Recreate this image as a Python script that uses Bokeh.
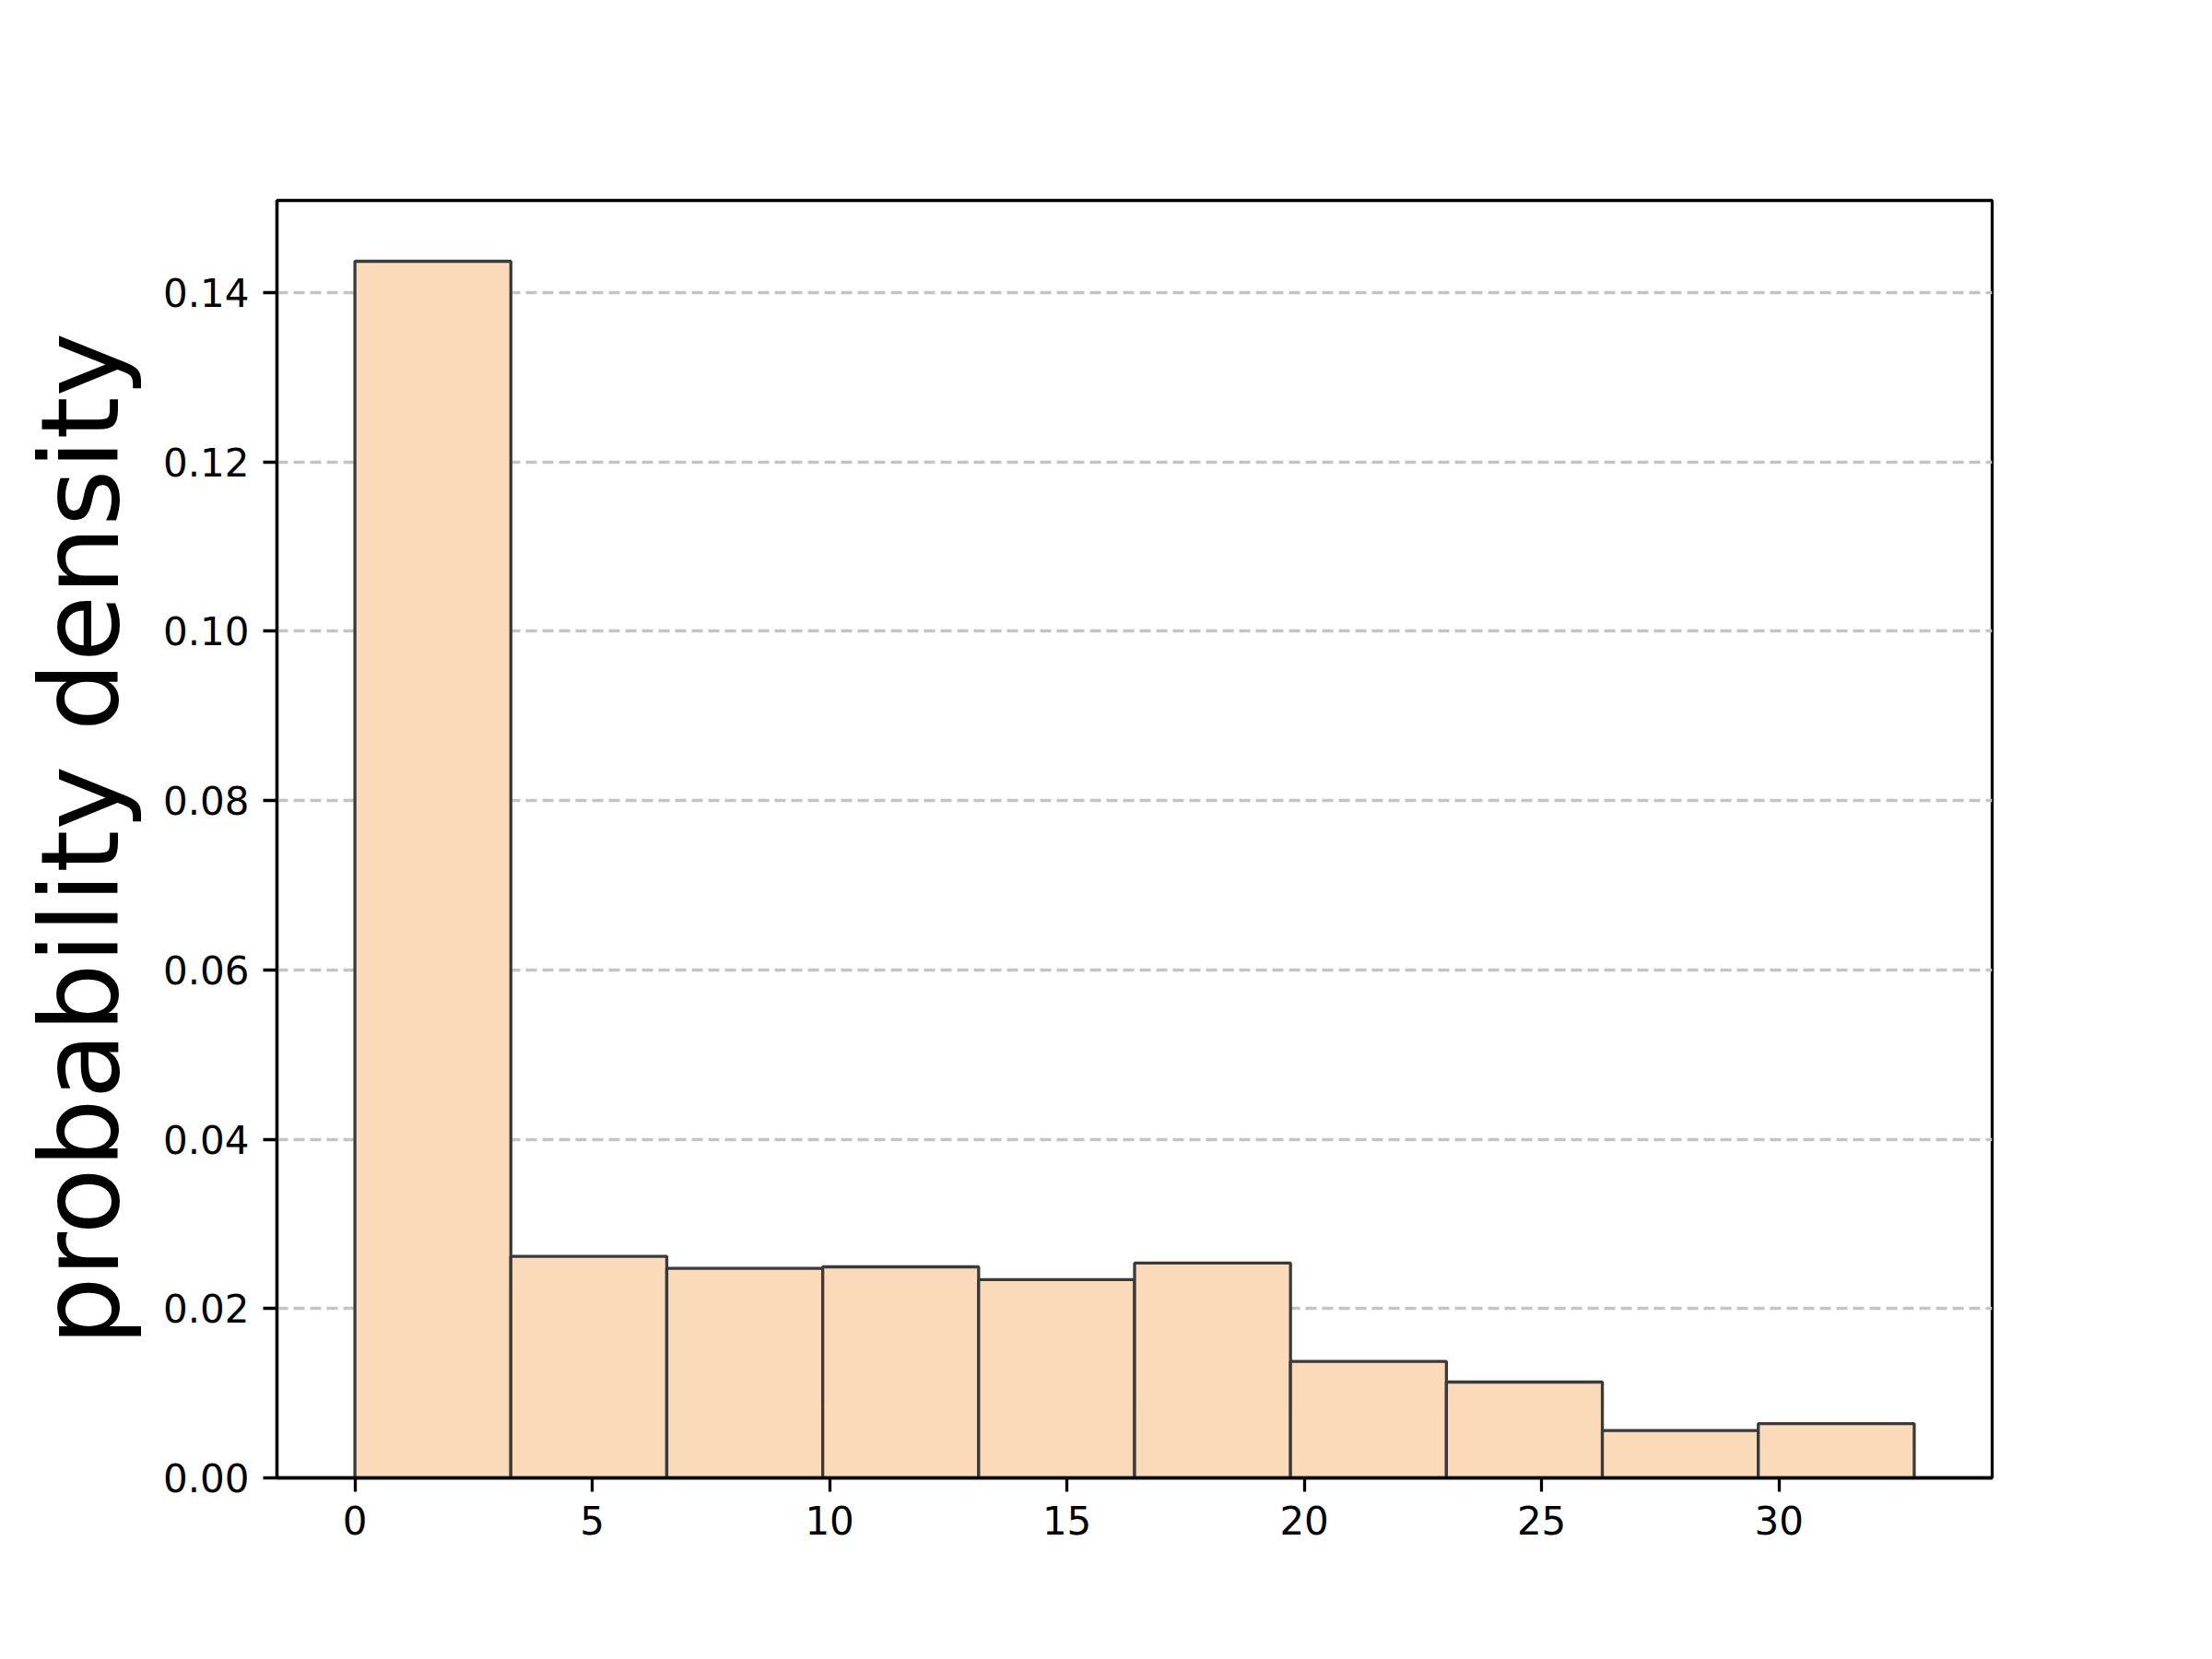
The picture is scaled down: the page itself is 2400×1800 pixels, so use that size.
from bokeh.plotting import figure
from bokeh.models import Range1d, FixedTicker, PrintfTickFormatter
from bokeh.embed import file_html
from bokeh.resources import INLINE

# Histogram data (probability density)
bin_edges = [0.0, 3.285, 6.57, 9.855, 13.14, 16.425, 19.71, 22.995, 26.28, 29.565, 32.85]
densities = [0.1437, 0.02617, 0.02476, 0.02493, 0.02341, 0.02537, 0.01376, 0.01132, 0.0056, 0.00642]
x_ticks = [0, 5, 10, 15, 20, 25, 30]
y_ticks = [0.0, 0.02, 0.04, 0.06, 0.08, 0.10, 0.12, 0.14]
y_label = "probability density"

FONT = "DejaVu Sans"

span = bin_edges[-1] - bin_edges[0]
x_lo = bin_edges[0] - 0.05 * span
x_hi = bin_edges[-1] + 0.05 * span
y_hi = max(densities) * 1.05

p = figure(
    output_backend="svg", toolbar_location=None,
    frame_width=1861, frame_height=1386,
    min_border_left=300, min_border_right=219,
    min_border_top=217, min_border_bottom=177,
    x_range=Range1d(x_lo, x_hi), y_range=Range1d(0, y_hi),
)
p.background_fill_color = "white"
p.border_fill_color = "white"
p.outline_line_color = "black"
p.outline_line_width = 3.3

p.quad(left=bin_edges[:-1], right=bin_edges[1:], bottom=0, top=densities,
       fill_color="#FADAB9", line_color="#3a3a3a", line_width=3.3)

p.xgrid.visible = False
p.ygrid.ticker = FixedTicker(ticks=y_ticks)
p.ygrid.grid_line_color = "#c4c4c4"
p.ygrid.grid_line_width = 3.3
p.ygrid.grid_line_dash = "12 6"

p.xaxis.ticker = FixedTicker(ticks=x_ticks)
p.yaxis.ticker = FixedTicker(ticks=y_ticks)
p.yaxis.formatter = PrintfTickFormatter(format="%.2f")

for ax in (p.xaxis[0], p.yaxis[0]):
    ax.axis_line_color = "black"
    ax.axis_line_width = 3.3
    ax.major_tick_line_color = "black"
    ax.major_tick_line_width = 3.3
    ax.major_tick_out = 15
    ax.major_tick_in = 0
    ax.minor_tick_line_color = None
    ax.major_label_text_font = FONT
    ax.major_label_text_font_size = "42px"
    ax.major_label_text_color = "black"
    ax.major_label_standoff = 15

p.yaxis.axis_label = y_label
p.yaxis.axis_label_text_font = FONT
p.yaxis.axis_label_text_font_size = "118px"
p.yaxis.axis_label_text_font_style = "normal"
p.yaxis.axis_label_text_color = "black"
p.yaxis.axis_label_standoff = 18

open("out.html", "w").write(file_html(p, INLINE))
